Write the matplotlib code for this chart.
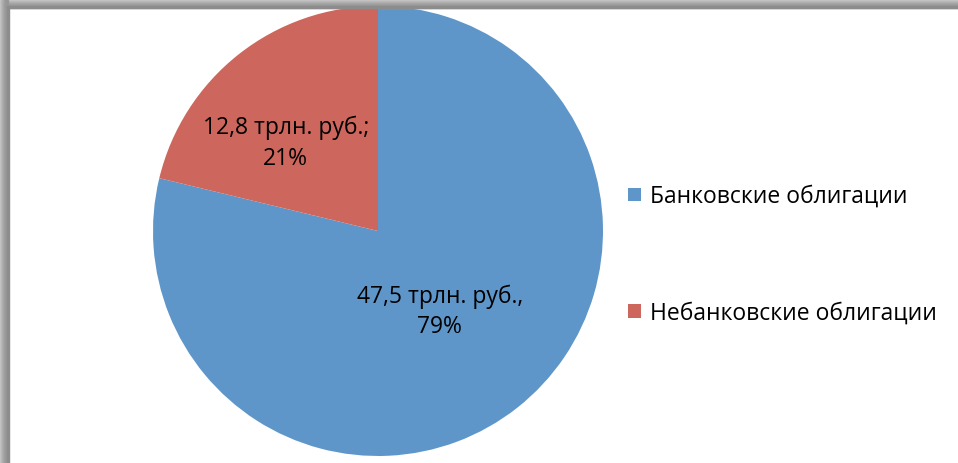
import matplotlib.pyplot as plt
from matplotlib.patches import Rectangle

plt.rcParams['font.family'] = ['Open Sans', 'DejaVu Sans']

# объём рынка облигаций, трлн. руб.
categories = ['Банковские облигации', 'Небанковские облигации']
values = [47.5, 12.8]
labels = ['47,5 трлн. руб.,\n79%', '12,8 трлн. руб.;\n21%']
colors = ['#5F96C9', '#CD665C']

W, H = 958, 463
fig = plt.figure(figsize=(W / 100, H / 100), dpi=100)

# рамка с тенью слева и сверху
shades = ['#c4c4c4', '#bababa', '#b0b0b0', '#a8a8a8', '#a0a0a0', '#9a9a9a', '#969696']
for i, c in enumerate(shades):
    fig.patches.append(Rectangle((i / W, 0), 1.5 / W, 1, transform=fig.transFigure,
                                 color=c, zorder=0))
    fig.patches.append(Rectangle((i / W, 1 - (i + 1.5) / H), 1, 1.5 / H,
                                 transform=fig.transFigure, color=c, zorder=0))
fig.patches.append(Rectangle((7 / W, 0), 1.5 / W, 1 - 6 / H, transform=fig.transFigure,
                             color='#8c8c8c', zorder=1))
fig.patches.append(Rectangle((7 / W, 1 - 7.5 / H), 1, 1.5 / H, transform=fig.transFigure,
                             color='#8c8c8c', zorder=1))

cx, cy, r = 378, 231, 225
ax = fig.add_axes([(cx - r) / W, (H - cy - r) / H, 2 * r / W, 2 * r / H])
wedges, _ = ax.pie(values, colors=colors, startangle=90, counterclock=False,
                   radius=1, wedgeprops=dict(linewidth=0))
ax.set_xlim(-1, 1)
ax.set_ylim(-1, 1)
ax.axis('off')

ax.text(0.275, -0.36, labels[0], ha='center', va='center', fontsize=16.5,
        linespacing=1.35)
ax.text(-0.41, 0.39, labels[1], ha='center', va='center', fontsize=16.5,
        linespacing=1.35)

fig.legend(wedges, categories, loc='center left',
           bbox_to_anchor=(628 / W, 1 - 255 / H), frameon=False, fontsize=16.5,
           handlelength=0.55, handleheight=0.55, handletextpad=0.4,
           labelspacing=4.05, borderaxespad=0, borderpad=0)

fig.savefig('out.png', dpi=100)
